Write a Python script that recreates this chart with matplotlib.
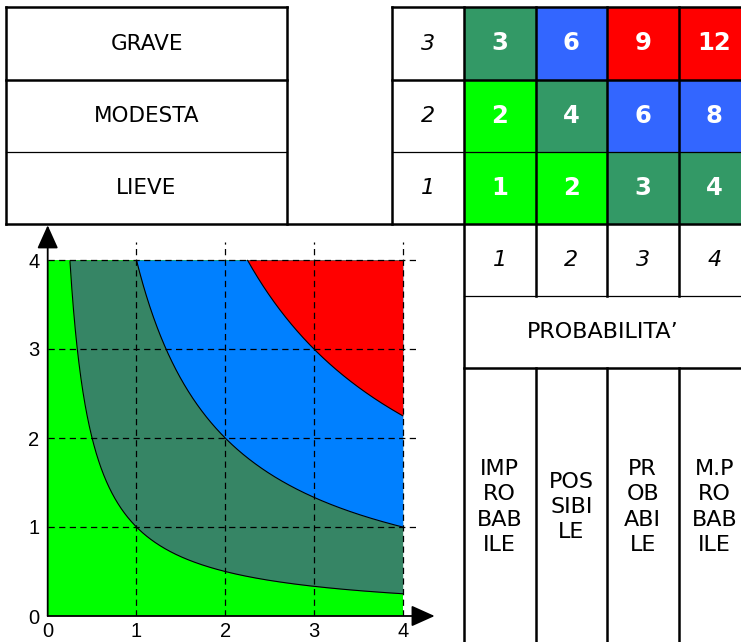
import numpy as np
import matplotlib.pyplot as plt
from matplotlib.patches import Rectangle

# --- data ---
probability = [1, 2, 3, 4]
severity = [1, 2, 3]
severity_labels = ["LIEVE", "MODESTA", "GRAVE"]
probability_labels = ["IMP\nRO\nBAB\nILE", "POS\nSIBI\nLE", "PR\nOB\nABI\nLE", "M.P\nRO\nBAB\nILE"]
risk = [[1, 2, 3, 4],
        [2, 4, 6, 8],
        [3, 6, 9, 12]]
levels = [1, 4, 9]          # iso-risk curves x*y = level
axis_ticks = [0, 1, 2, 3, 4]

table_colors = {"low": "#00FF00", "mid": "#339966", "high": "#3366FF", "top": "#FF0000"}
plot_colors = ["#00FF00", "#368565", "#0080FF", "#FF0000"]

def risk_class(v):
    if v <= 2:
        return "low"
    if v <= 4:
        return "mid"
    if v <= 8:
        return "high"
    return "top"

W, H = 741, 642
fig = plt.figure(figsize=(W / 100, H / 100), dpi=100)

# background axes in pixel coords for the table
bg = fig.add_axes([0, 0, 1, 1])
bg.set_xlim(0, W)
bg.set_ylim(H, 0)
bg.axis("off")

font = "DejaVu Sans"
thick = 1.8
thin = 0.9

def hline(y, x0, x1, lw=thick):
    bg.plot([x0, x1], [y, y], color="k", lw=lw, solid_capstyle="projecting")

def vline(x, y0, y1, lw=thick):
    bg.plot([x, x], [y0, y1], color="k", lw=lw, solid_capstyle="projecting")

rows_y = [224, 152, 80, 7]     # bottom of LIEVE ... top of GRAVE
col_x = [464, 535.5, 607, 678.5, 750]
lab_x0, lab_x1 = 6, 287
num_x0, num_x1 = 392, 464

# coloured cells
for i, s in enumerate(severity):
    for j, p in enumerate(probability):
        v = risk[i][j]
        bg.add_patch(Rectangle((col_x[j], rows_y[i + 1]), col_x[j + 1] - col_x[j],
                               rows_y[i] - rows_y[i + 1],
                               facecolor=table_colors[risk_class(v)], edgecolor="none"))
        bg.text((col_x[j] + col_x[j + 1]) / 2, (rows_y[i] + rows_y[i + 1]) / 2, str(v),
                ha="center", va="center", color="white", fontsize=17.5, fontweight="bold",
                family=font)
    yc = (rows_y[i] + rows_y[i + 1]) / 2
    bg.text((lab_x0 + lab_x1) / 2, yc, severity_labels[i], ha="center", va="center",
            fontsize=15.5, family=font)
    bg.text((num_x0 + num_x1) / 2, yc, str(s), ha="center", va="center",
            fontsize=16, style="italic", family=font)

# lower section: probability numbers, title, labels
for j, p in enumerate(probability):
    xc = (col_x[j] + col_x[j + 1]) / 2
    bg.text(xc, 260, str(p), ha="center", va="center", fontsize=16, style="italic", family=font)
    bg.text(xc, 507, probability_labels[j], ha="center", va="center", fontsize=16,
            family=font, linespacing=1.33)
bg.text((col_x[0] + W) / 2, 332, "PROBABILITA\u2019", ha="center", va="center",
        fontsize=16, family=font)

# table lines
hline(7, lab_x0, lab_x1)
hline(80, lab_x0, lab_x1)
hline(152, lab_x0, lab_x1, thin)
vline(lab_x0, 7, 224)
vline(lab_x1, 7, 224)
hline(7, num_x0, 750)
hline(80, num_x0, 750)
hline(152, num_x0, 750, thin)
vline(num_x0, 7, 224)
hline(224, lab_x0, 750)
vline(col_x[0], 7, H)
for x in col_x[1:4]:
    vline(x, 7, 296)
    vline(x, 368, H)
hline(296, col_x[0], 750, thin)
hline(368, col_x[0], 750)

# --- iso-risk plot ---
ux, uy = 88.75, 89.0
ox, oy = 47.7, 616
lim = 4.4
ax = fig.add_axes([ox / W, (H - oy) / H, lim * ux / W, lim * uy / H])
ax.set_xlim(0, lim)
ax.set_ylim(0, lim)
ax.patch.set_alpha(0)
for s in ax.spines.values():
    s.set_visible(False)

top = 4
x = np.linspace(1e-3, top, 1200)
ax.fill_between([0, top], 0, top, color=plot_colors[0], lw=0, zorder=1)
for k, lev in enumerate(levels):
    yb = np.minimum(lev / x, top)
    ax.fill_between(x, yb, top, color=plot_colors[k + 1], lw=0, zorder=1 + k)
    mask = (lev / x) <= top
    ax.plot(x[mask], lev / x[mask], color="k", lw=0.8, zorder=6)

for t in axis_ticks[1:]:
    ax.plot([t, t], [0, 4.2], color="k", lw=0.9, ls=(0, (5, 3.5)), zorder=7)
    ax.plot([0, 4.15], [t, t], color="k", lw=0.9, ls=(0, (5, 3.5)), zorder=7)

arrow = dict(arrowstyle="-|>,head_length=1.0,head_width=0.45", mutation_scale=14.4,
             color="k", lw=1.3, shrinkA=0, shrinkB=0)
ax.annotate("", xy=(0, 4.39), xytext=(0, 0), arrowprops=arrow, zorder=8,
            annotation_clip=False)
ax.annotate("", xy=(4.36, 0), xytext=(0, 0), arrowprops=arrow, zorder=8,
            annotation_clip=False)

ax.set_xticks(axis_ticks)
ax.set_yticks(axis_ticks)
ax.tick_params(length=0, labelsize=14.5)
ax.tick_params(axis="x", pad=4)
ax.tick_params(axis="y", pad=6)
for lab in ax.get_xticklabels() + ax.get_yticklabels():
    lab.set_family("Liberation Sans")

fig.savefig("out.png", dpi=100)
